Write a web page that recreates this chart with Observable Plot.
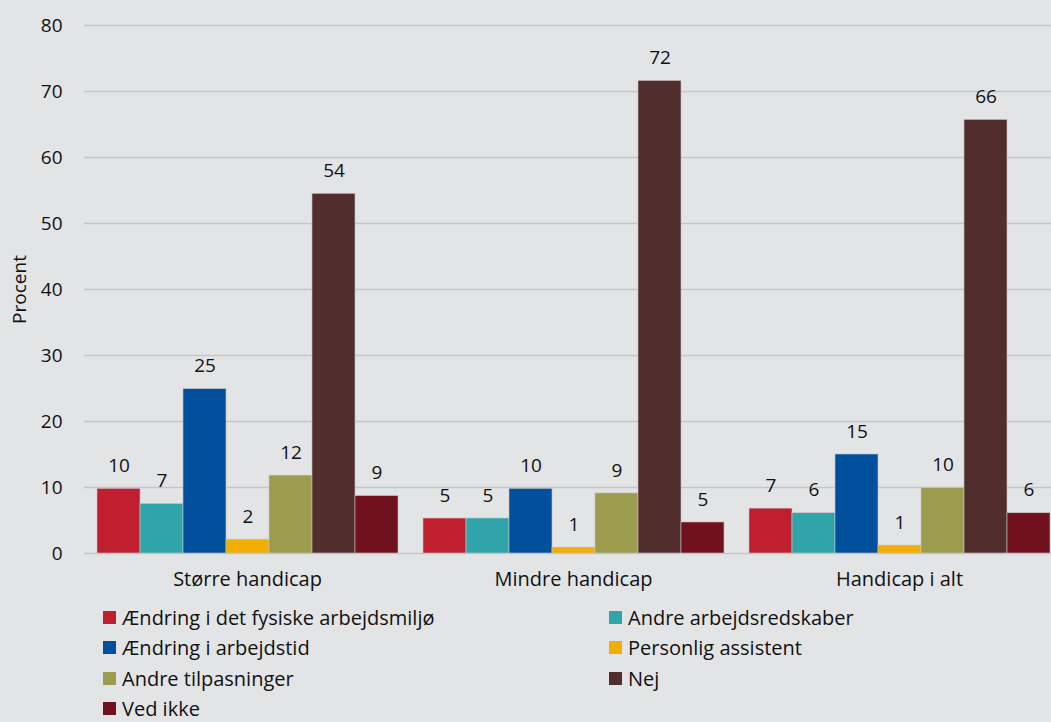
<!DOCTYPE html>
<html>
<head>
<meta charset="utf-8">
<script src="https://cdn.jsdelivr.net/npm/d3@7"></script>
<script src="https://cdn.jsdelivr.net/npm/@observablehq/plot@0.6"></script>
<style>
  html, body { margin: 0; padding: 0; background: #e3e4e6; }
  body { width: 1051px; height: 722px; overflow: hidden; font-family: "Open Sans", "Noto Sans", sans-serif; color: #111; }
  #legend { display: grid; grid-template-columns: 506px 440px; padding-left: 103px; margin-top: 2px; font-size: 20px; }
  .item { display: flex; align-items: center; height: 30.5px; white-space: nowrap; }
  .sw { width: 13px; height: 13px; margin-right: 6px; flex: none; }
  svg g[aria-label="fx-axis tick label"] text { font-size: 20px; }
</style>
</head>
<body>
<div id="chart"></div>
<div id="legend"></div>
<script>
const groups = ["Større handicap", "Mindre handicap", "Handicap i alt"];
const series = [
  "Ændring i det fysiske arbejdsmiljø",
  "Andre arbejdsredskaber",
  "Ændring i arbejdstid",
  "Personlig assistent",
  "Andre tilpasninger",
  "Nej",
  "Ved ikke"
];
const colors = ["#c01f30", "#2fa5aa", "#00509d", "#f2ae05", "#9c9c4f", "#512e2d", "#72111e"];
// values per series, in group order
const vFysisk = [9.8, 5.3, 6.8];
const vRedskaber = [7.5, 5.3, 6.1];
const vArbejdstid = [24.9, 9.8, 15.0];
const vAssistent = [2.1, 0.9, 1.2];
const vTilpasninger = [11.8, 9.1, 9.9];
const vNej = [54.5, 71.6, 65.7];
const vVedIkke = [8.7, 4.7, 6.1];
// printed labels per series
const lFysisk = [10, 5, 7];
const lRedskaber = [7, 5, 6];
const lArbejdstid = [25, 10, 15];
const lAssistent = [2, 1, 1];
const lTilpasninger = [12, 9, 10];
const lNej = [54, 72, 66];
const lVedIkke = [9, 5, 6];
const yTicks = [0, 10, 20, 30, 40, 50, 60, 70, 80];

const allValues = [vFysisk, vRedskaber, vArbejdstid, vAssistent, vTilpasninger, vNej, vVedIkke];
const allLabels = [lFysisk, lRedskaber, lArbejdstid, lAssistent, lTilpasninger, lNej, lVedIkke];

const data = [];
series.forEach((s, i) => {
  groups.forEach((g, j) => {
    data.push({group: g, series: s, value: allValues[i][j], label: allLabels[i][j]});
  });
});

const font = '"Open Sans", "Noto Sans", sans-serif';
const chart = Plot.plot({
  width: 1051,
  height: 600,
  marginLeft: 84,
  marginRight: -11,
  marginTop: 25,
  marginBottom: 47,
  style: {background: "transparent", fontFamily: font, fontSize: "19px", color: "#111"},
  fx: {domain: groups, padding: 0, label: null, axis: "bottom", tickSize: 0, tickPadding: 18},
  x: {domain: series, paddingInner: 0, paddingOuter: 0.29, axis: null},
  y: {domain: [0, 80], ticks: yTicks, label: "Procent", labelAnchor: "center", labelArrow: "none", labelOffset: 72, tickSize: 0, tickPadding: 22},
  color: {domain: series, range: colors},
  marks: [
    Plot.gridY(yTicks, {stroke: "#c4c5c7", strokeOpacity: 1, strokeWidth: 1.5}),
    Plot.barY(data, {fx: "group", x: "series", y: "value", fill: "series", stroke: "#c9c3c3", strokeWidth: 0.6}),
    Plot.text(data, {fx: "group", x: "series", y: "value", text: "label", dy: -23, fontSize: 19, fill: "#111"})
  ]
});
document.getElementById("chart").appendChild(chart);

const legend = document.getElementById("legend");
series.forEach((s, i) => {
  const d = document.createElement("div");
  d.className = "item";
  d.innerHTML = `<span class="sw" style="background:${colors[i]}"></span><span>${s}</span>`;
  legend.appendChild(d);
});
</script>
</body>
</html>
